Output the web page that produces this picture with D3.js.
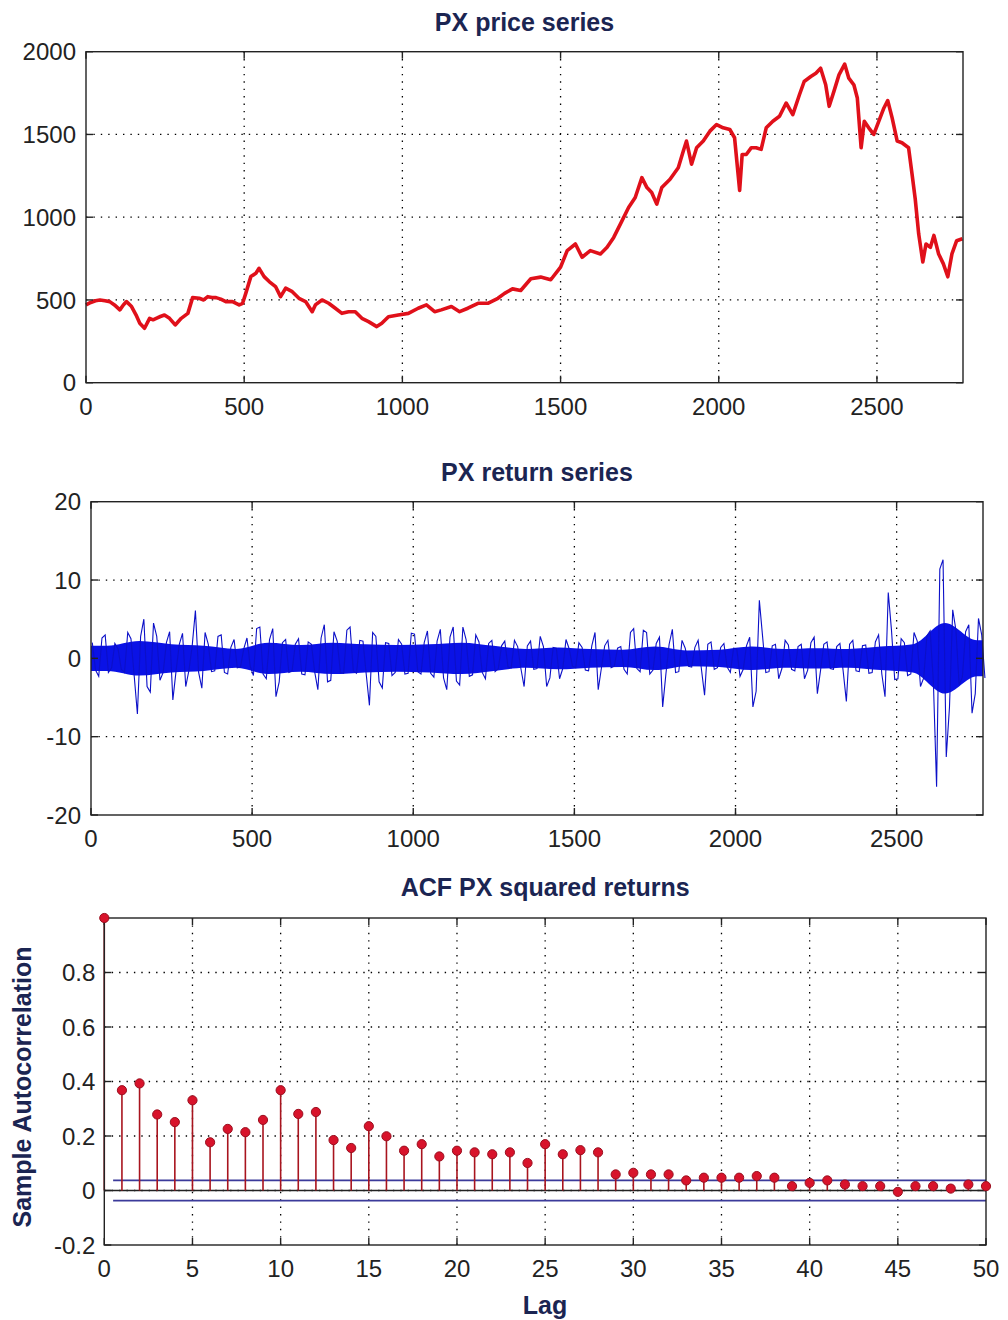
<!DOCTYPE html>
<html><head><meta charset="utf-8">
<script src="https://cdn.jsdelivr.net/npm/d3@7"></script>
<style>body{margin:0;background:#fff}</style>
</head><body>
<svg id="c" width="1008" height="1320" xmlns="http://www.w3.org/2000/svg"></svg>
<script>
// ---------- DATA ----------
const titles = ["PX price series", "PX return series", "ACF PX squared returns"];

// price series (time index, price)
const priceT = [0,15,30,44,60,75,90,107,118,128,144,158,170,185,201,212,222,235,248,264,282,301,322,337,358,372,385,398,411,426,442,463,484,495,505,521,537,547,563,579,599,615,631,652,673,694,715,725,746,767,788,809,830,851,872,893,919,935,956,987,1019,1050,1076,1102,1123,1155,1181,1207,1239,1270,1302,1323,1348,1374,1406,1437,1469,1500,1521,1547,1568,1594,1626,1647,1668,1689,1715,1736,1757,1773,1788,1804,1820,1846,1872,1888,1898,1914,1930,1951,1972,1993,2014,2035,2050,2066,2074,2087,2103,2118,2134,2150,2171,2192,2213,2234,2255,2270,2291,2307,2322,2338,2349,2364,2380,2398,2411,2427,2438,2450,2460,2474,2490,2506,2522,2534,2548,2564,2579,2600,2611,2621,2632,2645,2655,2669,2680,2695,2710,2724,2737,2752,2770];
const priceV = [470,485,495,500,495,490,470,440,470,490,460,410,359,329,389,380,389,400,409,389,349,389,419,514,510,500,520,515,514,505,490,490,470,480,540,641,661,691,641,611,581,520,571,550,510,490,429,470,500,480,450,419,429,429,389,369,339,359,399,409,419,450,470,429,440,460,429,450,480,480,510,540,567,557,628,638,622,698,798,838,758,798,778,818,878,958,1059,1119,1239,1179,1149,1079,1179,1229,1299,1400,1460,1320,1420,1460,1520,1560,1540,1530,1480,1162,1379,1379,1420,1420,1410,1540,1580,1610,1690,1620,1740,1820,1850,1870,1900,1800,1670,1760,1860,1925,1840,1800,1720,1420,1580,1540,1500,1580,1660,1705,1600,1460,1450,1420,1259,1110,898,730,838,818,890,778,718,640,778,858,870];

// return series: max / min per 20-observation block
const returnHi = [2.0,2.6,3.0,1.9,1.2,3.3,2.5,2.8,5.0,4.5, 2.8,2.0,3.4,1.8,3.2,1.6,6.1,3.3,1.8,2.8, 3.0,1.4,2.4,1.2,2.6,3.8,4.0,2.4,3.8,2.0, 2.4,1.8,2.5,2.1,1.8,2.6,4.3,3.4,2.2,3.6, 4.0,2.3,2.2,3.3,2.8,2.0,1.9,2.4,1.8,3.2, 3.1,2.0,3.5,2.2,3.7,2.7,4.0,4.0,2.4,3.0, 2.1,1.9,2.3,1.6,2.2,2.3,1.5,1.6,2.2,2.8, 1.5,1.4,1.3,2.4,1.2,2.0,1.4,1.6,3.3,1.6, 2.3,1.3,1.5,3.3,3.8,3.6,3.3,1.9,2.7,1.8, 3.7,2.3,1.3,1.4,2.3,1.8,2.1,1.4,1.9,1.3, 1.2,1.6,2.7,7.4,2.8,1.6,1.8,2.3,1.7,1.5, 1.8,2.0,2.7,1.8,2.1,1.5,1.9,1.8,2.3,1.6, 1.7,2.1,3.0,8.4,3.6,2.5,2.0,3.3,2.2,2.9, 3.5,11.4,12.6,6.2,3.6,3.4,4.3,5.1,3.0];
const returnLo = [-1.5,-2.3,-1.8,-1.2,-1.4,-1.8,-2.2,-7.1,-3.6,-4.3, -2.8,-1.8,-5.3,-1.6,-3.6,-1.5,-1.8,-3.8,-1.7,-1.6, -1.8,-2.0,-1.2,-1.1,-1.0,-2.2,-2.0,-2.6,-4.9,-3.0, -1.8,-1.6,-2.0,-2.1,-1.7,-4.0,-3.0,-2.8,-1.8,-1.9, -1.6,-1.9,-2.0,-6.0,-3.0,-3.8,-2.2,-1.8,-2.0,-1.9, -1.7,-2.0,-1.9,-2.4,-2.5,-4.0,-2.9,-3.4,-2.3,-2.1, -1.8,-2.6,-1.7,-1.3,-1.1,-1.2,-1.3,-3.6,-1.4,-1.3, -3.6,-2.5,-2.6,-1.3,-1.0,-1.2,-1.5,-1.6,-4.0,-1.2, -1.2,-1.0,-1.4,-2.0,-1.3,-1.7,-2.0,-1.5,-6.2,-2.0, -1.8,-1.7,-1.0,-1.1,-1.3,-4.7,-1.4,-1.2,-1.1,-1.8, -2.3,-1.4,-6.2,-4.2,-1.8,-1.7,-2.6,-1.3,-1.4,-1.6, -2.6,-1.5,-4.5,-1.5,-1.3,-1.4,-1.6,-5.5,-1.6,-1.7, -1.9,-1.8,-2.0,-4.9,-2.7,-2.6,-2.2,-2.0,-3.6,-2.5, -3.0,-16.4,-12.6,-6.2,-3.4,-2.4,-7.0,-4.5,-2.5];
// half-width of the dense core of the return band, per 100 observations
const returnCore = [1.6,2.2,1.8,1.6,1.2,2.0,1.7,2.0,1.8,1.7,1.8,2.0,1.6,1.2,1.4,1.2,1.1,1.5,1.0,1.1,1.5,1.2,1.3,1.2,1.5,1.8,4.5,2.3];

// ACF of squared returns, lags 0..50
const acfLags = d3.range(0, 51);
const acfValues = [1, 0.368,0.393,0.279,0.251,0.331,0.177,0.226,0.214,0.259,0.368, 0.281,0.288,0.185,0.156,0.236,0.199,0.146,0.170,0.125,0.146, 0.140,0.133,0.140,0.101,0.170,0.133,0.148,0.140,0.059,0.065, 0.059,0.059,0.037,0.047,0.047,0.047,0.053,0.047,0.016,0.028, 0.037,0.022,0.016,0.016,-0.005,0.016,0.016,0.007,0.022,0.016];
const acfBound = 0.037;

const priceXTicks = [0,500,1000,1500,2000,2500];
const priceYTicks = [0,500,1000,1500,2000];
const retXTicks = [0,500,1000,1500,2000,2500];
const retYTicks = [-20,-10,0,10,20];
const acfXTicks = [0,5,10,15,20,25,30,35,40,45,50];
const acfYTicks = [-0.2,0,0.2,0.4,0.6,0.8];
const acfYLabels = ["-0.2","0","0.2","0.4","0.6","0.8"];

// ---------- DRAW ----------
const svg = d3.select("#c");
const FONT = "'Liberation Sans', Arial, sans-serif";
const NAVY = "#1b2552";

function panel(o) {
  const x = d3.scaleLinear().domain(o.xd).range([o.l, o.r]);
  const y = d3.scaleLinear().domain(o.yd).range([o.b, o.t]);
  const g = svg.append("g");
  const gg = g.append("g").attr("stroke", "#000").attr("stroke-width", 1.3).attr("stroke-dasharray", "1.4,6");
  o.xt.filter(v => v > o.xd[0] && v < o.xd[1]).forEach(v =>
    gg.append("line").attr("x1", x(v)).attr("x2", x(v)).attr("y1", o.t).attr("y2", o.b));
  o.yt.filter(v => v > o.yd[0] && v < o.yd[1]).forEach(v =>
    gg.append("line").attr("y1", y(v)).attr("y2", y(v)).attr("x1", o.l).attr("x2", o.r));
  const data = g.append("g");
  const top = g.append("g");
  top.append("rect").attr("x", o.l).attr("y", o.t).attr("width", o.r - o.l).attr("height", o.b - o.t)
    .attr("fill", "none").attr("stroke", "#222").attr("stroke-width", 1.4);
  const tl = 7;
  o.xt.forEach(v => {
    top.append("line").attr("x1", x(v)).attr("x2", x(v)).attr("y1", o.b).attr("y2", o.b - tl).attr("stroke", "#222").attr("stroke-width", 1.4);
    top.append("line").attr("x1", x(v)).attr("x2", x(v)).attr("y1", o.t).attr("y2", o.t + tl).attr("stroke", "#222").attr("stroke-width", 1.4);
    top.append("text").attr("x", x(v)).attr("y", o.b + 32).attr("text-anchor", "middle")
      .attr("font-family", FONT).attr("font-size", 24).attr("fill", "#222").text(v);
  });
  o.yt.forEach((v, i) => {
    top.append("line").attr("x1", o.l).attr("x2", o.l + tl).attr("y1", y(v)).attr("y2", y(v)).attr("stroke", "#222").attr("stroke-width", 1.4);
    top.append("line").attr("x1", o.r).attr("x2", o.r - tl).attr("y1", y(v)).attr("y2", y(v)).attr("stroke", "#222").attr("stroke-width", 1.4);
    top.append("text").attr("x", o.l - o.yg).attr("y", y(v)).attr("dy", "0.36em").attr("text-anchor", "end")
      .attr("font-family", FONT).attr("font-size", 24).attr("fill", "#222").text(o.yl ? o.yl[i] : String(v));
  });
  top.append("text").attr("x", (o.l + o.r) / 2).attr("y", o.titleY).attr("text-anchor", "middle")
    .attr("font-family", FONT).attr("font-weight", "bold").attr("font-size", 25).attr("fill", NAVY).text(o.title);
  return {x, y, data, top};
}

// Panel 1: price
const p1 = panel({l: 86, r: 963, t: 51.7, b: 382.7, xd: [0, 2772], yd: [0, 2000],
  xt: priceXTicks, yt: priceYTicks, yg: 10, titleY: 31, title: titles[0]});
const pricePts = priceT.map((t, i) => [t, priceV[i]]);
p1.data.append("path").attr("d", d3.line().x(d => p1.x(d[0])).y(d => p1.y(d[1]))(pricePts))
  .attr("fill", "none").attr("stroke", "#e0101a").attr("stroke-width", 3.6).attr("stroke-linejoin", "round");

// Panel 2: returns
const p2 = panel({l: 91, r: 983, t: 501.7, b: 815, xd: [0, 2768], yd: [-20, 20],
  xt: retXTicks, yt: retYTicks, yg: 10, titleY: 481, title: titles[1]});
const corePts = returnCore.map((c, i) => [Math.min(i * 100 + 50, 2768), c]);
corePts.unshift([0, returnCore[0]]); corePts.push([2768, returnCore[returnCore.length - 1]]);
p2.data.append("path").attr("d", d3.area().curve(d3.curveMonotoneX)
    .x(d => p2.x(d[0])).y0(d => p2.y(-d[1])).y1(d => p2.y(d[1]))(corePts))
  .attr("fill", "#0a12e6");
const zig = [];
returnHi.forEach((h, i) => {
  const t0 = i * 20;
  if (i % 2 === 0) { zig.push([t0 + 4, h]); zig.push([t0 + 14, returnLo[i]]); }
  else { zig.push([t0 + 4, returnLo[i]]); zig.push([t0 + 14, h]); }
});
p2.data.append("path").attr("d", d3.line().x(d => p2.x(d[0])).y(d => p2.y(d[1]))(zig))
  .attr("fill", "none").attr("stroke", "#0c10c8").attr("stroke-width", 1.1);

// Panel 3: ACF
const p3 = panel({l: 104.3, r: 986, t: 918, b: 1245, xd: [0, 50], yd: [-0.2, 1.0],
  xt: acfXTicks, yt: acfYTicks, yl: acfYLabels, yg: 9, titleY: 896, title: titles[2]});
p3.data.append("line").attr("x1", p3.x(0)).attr("x2", p3.x(50)).attr("y1", p3.y(0)).attr("y2", p3.y(0))
  .attr("stroke", "#222").attr("stroke-width", 1.3);
[acfBound, -acfBound].forEach(b =>
  p3.data.append("line").attr("x1", p3.x(0.5)).attr("x2", p3.x(50)).attr("y1", p3.y(b)).attr("y2", p3.y(b))
    .attr("stroke", "#3b3a9a").attr("stroke-width", 1.6));
p3.data.selectAll("line.stem").data(acfLags).enter().append("line").attr("class", "stem")
  .attr("x1", d => p3.x(d)).attr("x2", d => p3.x(d)).attr("y1", p3.y(0)).attr("y2", d => p3.y(acfValues[d]))
  .attr("stroke", "#a8141e").attr("stroke-width", 1.6);
p3.top.selectAll("circle.mk").data(acfLags).enter().append("circle").attr("class", "mk")
  .attr("cx", d => p3.x(d)).attr("cy", d => p3.y(acfValues[d])).attr("r", 4.6)
  .attr("fill", "#d8132b").attr("stroke", "#9a0f1f").attr("stroke-width", 1);
svg.append("text").attr("x", 545).attr("y", 1314).attr("text-anchor", "middle")
  .attr("font-family", FONT).attr("font-weight", "bold").attr("font-size", 25).attr("fill", NAVY).text("Lag");
svg.append("text").attr("transform", "translate(30.5,1087) rotate(-90)").attr("text-anchor", "middle")
  .attr("font-family", FONT).attr("font-weight", "bold").attr("font-size", 25).attr("fill", NAVY).text("Sample Autocorrelation");
</script>
</body></html>
